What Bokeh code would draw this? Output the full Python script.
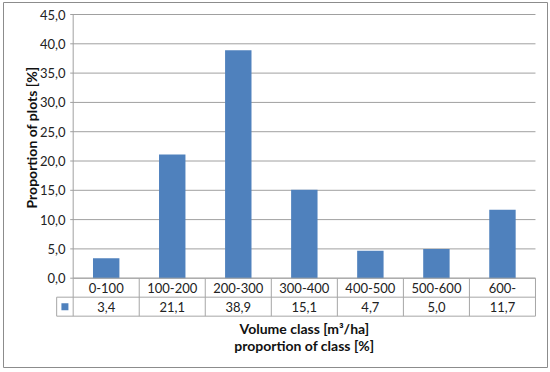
from bokeh.plotting import figure
from bokeh.models import Range1d
from bokeh.embed import file_html
from bokeh.resources import INLINE
from bokeh.core.properties import value
import math

categories = ["0-100", "100-200", "200-300", "300-400", "400-500", "500-600", "600-"]
proportions = [3.4, 21.1, 38.9, 15.1, 4.7, 5.0, 11.7]
yticks = [0, 5, 10, 15, 20, 25, 30, 35, 40, 45]
ytick_labels = ["0,0", "5,0", "10,0", "15,0", "20,0", "25,0", "30,0", "35,0", "40,0", "45,0"]
value_labels = ["3,4", "21,1", "38,9", "15,1", "4,7", "5,0", "11,7"]
x_title = "Volume class [m\u00b3/ha]"
x_title2 = "proportion of class [%]"
y_title = "Proportion of plots [%]"

FONT = "Lato"
BLUE = "#4F81BD"
GRID = "#A0A0A0"
TABLE = "#A6A6A6"
TXT = "#222222"

ROW = 3.24
TBOT = -2 * ROW
LEG = -0.25
n = len(categories)

p = figure(width=550, height=372, output_backend="svg", toolbar_location=None,
           x_range=Range1d(-1.055, 7.182), y_range=Range1d(-15.24, 47.05),
           x_axis_location=None, y_axis_location=None,
           min_border_left=3, min_border_right=3, min_border_top=2, min_border_bottom=5)
p.outline_line_color = "#8C8C8C"
p.outline_line_width = 1
p.background_fill_color = "white"
p.border_fill_color = "white"
p.grid.visible = False

# gridlines with small outward ticks
p.segment(x0=[-0.045] * len(yticks), x1=[n] * len(yticks), y0=yticks, y1=yticks,
          line_color=GRID, line_width=1)
# vertical axis line
p.segment(x0=[0], x1=[0], y0=[0], y1=[45], line_color=GRID, line_width=1)

# y tick labels
p.text(x=[-0.117] * len(yticks), y=yticks, text=ytick_labels, text_align="right",
       text_baseline="middle", text_font=value(FONT), text_font_size="13px", text_color=TXT)

# bars
centers = [i + 0.5 for i in range(n)]
p.vbar(x=centers, top=proportions, width=0.4, bottom=0, fill_color=BLUE, line_color=None)

# data table lines
hx0 = [0, LEG, LEG]
hx1 = [n, n, n]
hy = [0, -ROW, TBOT]
p.segment(x0=hx0, x1=hx1, y0=hy, y1=hy, line_color=TABLE, line_width=1)
vx = list(range(n + 1)) + [LEG]
vy0 = [0] * (n + 1) + [-ROW]
vy1 = [TBOT] * (n + 2)
p.segment(x0=vx, x1=vx, y0=vy0, y1=vy1, line_color=TABLE, line_width=1)

# legend key in table
p.scatter(x=[LEG / 2], y=[-1.5 * ROW], marker="square", size=7, fill_color=BLUE, line_color=None)

p.text(x=centers, y=[-0.5 * ROW] * n, text=categories, text_align="center", text_baseline="middle",
       text_font=value(FONT), text_font_size="13px", text_color=TXT)
p.text(x=centers, y=[-1.5 * ROW] * n, text=value_labels, text_align="center", text_baseline="middle",
       text_font=value(FONT), text_font_size="13px", text_color=TXT)

# titles
p.text(x=[n / 2, n / 2], y=[-8.6, -11.5], text=[x_title, x_title2], text_align="center",
       text_baseline="middle", text_font=value(FONT), text_font_size="14px",
       text_font_style="bold", text_color="#111111")
p.text(x=[-0.63], y=[24.0], text=[y_title], angle=math.pi / 2, text_align="center",
       text_baseline="middle", text_font=value(FONT), text_font_size="14px",
       text_font_style="bold", text_color="#111111")

open("out.html", "w").write(file_html(p, INLINE))
